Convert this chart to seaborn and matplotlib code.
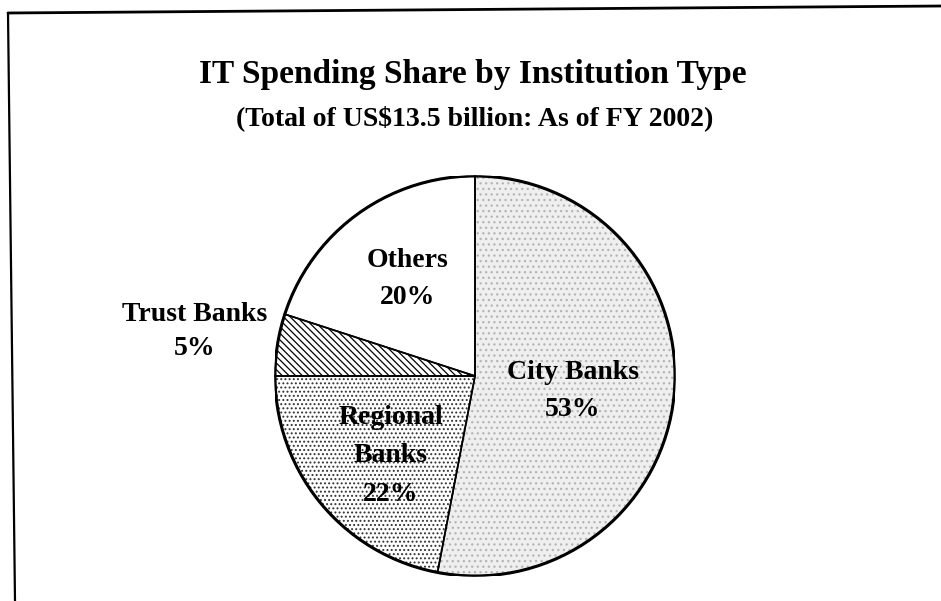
import matplotlib
matplotlib.use("Agg")
import matplotlib.pyplot as plt
import seaborn as sns
import numpy as np
from matplotlib.lines import Line2D
from matplotlib.patches import Circle

# ---- data ----
categories = ["City Banks", "Regional Banks", "Trust Banks", "Others"]
label_texts = ["City Banks\n53%", "Regional\nBanks\n22%", "Trust Banks\n5%", "Others\n20%"]
shares = [53, 22, 5, 20]
title = "IT Spending Share by Institution Type"
subtitle = "(Total of US$13.5 billion: As of FY 2002)"

# ---- style ----
sns.set_theme(style="white")
plt.rcParams["font.family"] = ["Liberation Serif", "DejaVu Serif"]
plt.rcParams["hatch.linewidth"] = 0.9

W, H = 941, 601
fig = plt.figure(figsize=(W / 100, H / 100), dpi=100)
fig.patch.set_facecolor("white")

# pie axes placed in pixel box (center 475,376 ; radius 200)
cx, cy, r = 475, 376, 200
ax = fig.add_axes([(cx - r) / W, (H - cy - r) / H, 2 * r / W, 2 * r / H])

faces = ["#efefef", "white", "white", "white"]
hatches = ["...", "....", "\\\\\\\\\\", None]
hatch_cols = ["#b4b4b4", "#333333", "black", "black"]

wedges, _ = ax.pie(shares, startangle=90, counterclock=False, radius=1,
                   colors=faces, wedgeprops=dict(linewidth=0))
for w, h, hc in zip(wedges, hatches, hatch_cols):
    w.set_edgecolor(hc)
    if h:
        w.set_hatch(h)

# outlines
edges, _ = ax.pie(shares, startangle=90, counterclock=False, radius=1,
                  colors=["none"] * 4,
                  wedgeprops=dict(linewidth=1.2, edgecolor="black", fill=False))
ax.add_patch(Circle((0, 0), 1, fill=False, lw=2.2, ec="black"))

ax.set_xlim(-1, 1)
ax.set_ylim(-1, 1)
ax.set_aspect("equal")
ax.axis("off")

# labels at wedge mid angles, with small pixel nudges
dists = [0.49, 0.58, 1.42, 0.60]
nudges = [(0, -6), (5, -6), (0, 0), (3, 0)]
spacings = [1.65, 1.7, 1.45, 1.65]
for w, txt, d, (nx, ny), ls in zip(wedges, label_texts, dists, nudges, spacings):
    ang = np.deg2rad((w.theta1 + w.theta2) / 2)
    ax.annotate(txt, (d * np.cos(ang), d * np.sin(ang)), xytext=(nx, ny),
                textcoords="offset pixels", ha="center", va="center",
                fontsize=20, fontweight="bold", color="black", linespacing=ls,
                annotation_clip=False)

# titles
fig.text(473 / W, 1 - 83 / H, title, ha="center", va="baseline",
         fontsize=24, fontweight="bold", color="black")
fig.text(475 / W, 1 - 125 / H, subtitle, ha="center", va="baseline",
         fontsize=20, fontweight="bold", color="black")

# scanned frame (top and left edges)
fig.add_artist(Line2D([8 / W, 1.0], [1 - 13 / H, 1 - 6 / H], color="black", lw=2.0,
                      transform=fig.transFigure))
fig.add_artist(Line2D([8 / W, 15 / W], [1 - 13 / H, 0.0], color="black", lw=1.6,
                      transform=fig.transFigure))

fig.savefig("out.png", dpi=100, facecolor="white")
